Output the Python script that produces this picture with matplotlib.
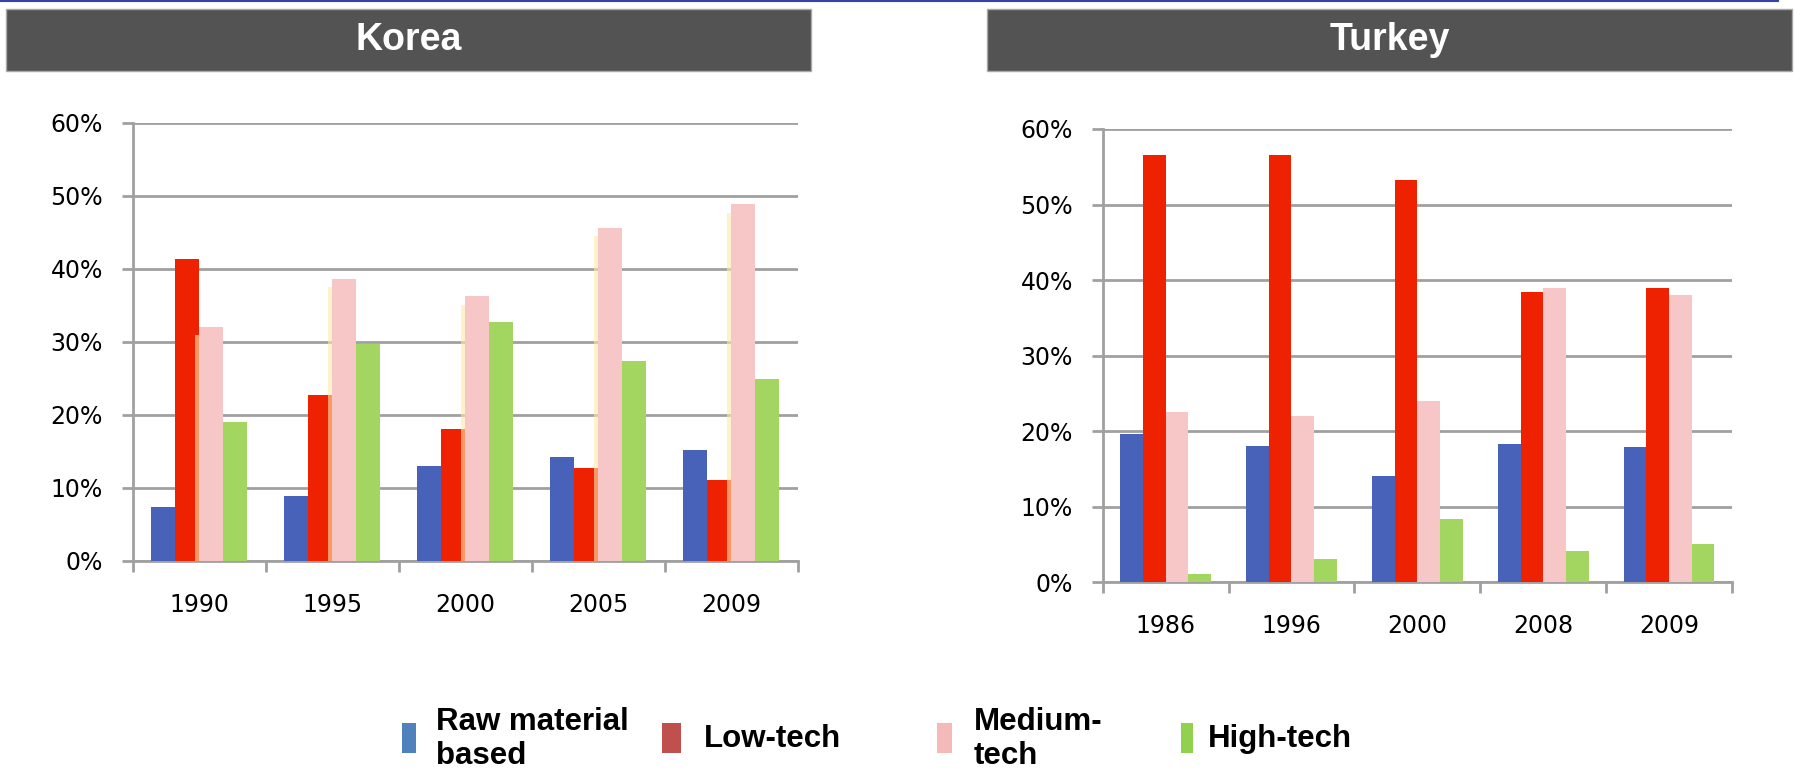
import matplotlib.pyplot as plt
import matplotlib.patheffects as pe
from matplotlib.patches import Rectangle
from matplotlib.lines import Line2D
import numpy as np

#--------------------Export structure shares--------------------
categories = ["Raw material\nbased", "Low-tech", "Medium-\ntech", "High-tech"]

korea_years = ["1990", "1995", "2000", "2005", "2009"]
korea_raw = [7.4, 8.8, 13.0, 14.2, 15.1]
korea_low = [41.3, 22.7, 18.0, 12.7, 11.0]
korea_med = [32.0, 38.6, 36.2, 45.6, 48.8]
korea_high = [19.0, 29.7, 32.7, 27.4, 24.9]

turkey_years = ["1986", "1996", "2000", "2008", "2009"]
turkey_raw = [19.6, 18.1, 14.1, 18.3, 17.9]
turkey_low = [56.5, 56.5, 53.2, 38.4, 38.9]
turkey_med = [22.6, 22.0, 24.0, 38.9, 38.0]
turkey_high = [1.1, 3.1, 8.4, 4.2, 5.1]

yticks = [0, 10, 20, 30, 40, 50, 60]

bar_colors = ['#4862BA', '#EE2200', '#F7C6C6', '#A2D660']
legend_colors = ['#4F81BD', '#C0504D', '#F4BABA', '#92D050']
grid_color = '#A0A0A0'

W, H = 1794, 770
fig = plt.figure(figsize=(W / 100, H / 100), dpi=100)


def fx(px):
    return px / W


def fy(py):
    return 1 - py / H


def draw_panel(ax, years, series, glow=False):
    x = np.arange(len(years))
    width = 0.18
    offsets = [-1.5, -0.5, 0.5, 1.5]
    for vals, off, c in zip(series, offsets, bar_colors):
        bars = ax.bar(x + off * width, vals, width=width, color=c, zorder=3)
        if glow and c == bar_colors[2]:
            # faint warm halo on the left edge of the medium-tech bars
            for b in bars:
                b.set_path_effects([pe.SimplePatchShadow(offset=(-3, -6), shadow_rgbFace='#FFE8A8', alpha=0.6),
                                    pe.Normal()])
    ax.set_xlim(-0.5, len(years) - 0.5)
    ax.set_ylim(0, 60)
    ax.set_yticks(yticks)
    ax.set_yticklabels([f"{v}%" for v in yticks])
    ax.yaxis.grid(True, color=grid_color, linewidth=2, zorder=0)
    ax.set_axisbelow(True)
    # group boundaries get the tick marks, year labels sit in between
    ax.set_xticks(np.arange(-0.5, len(years), 1.0))
    ax.set_xticklabels([])
    ax.set_xticks(x, minor=True)
    ax.set_xticklabels(years, minor=True)
    ax.tick_params(axis='x', which='major', length=8, width=2, color=grid_color, direction='out')
    ax.tick_params(axis='x', which='minor', length=0, pad=23, labelsize=17)
    ax.tick_params(axis='y', length=8, width=2, color=grid_color, pad=13.5, labelsize=17)
    for s in ['top', 'right']:
        ax.spines[s].set_visible(False)
    for s in ['left', 'bottom']:
        ax.spines[s].set_color(grid_color)
        ax.spines[s].set_linewidth(2)


ax1 = fig.add_axes([fx(132.7), fy(560.7), fx(797.7 - 132.7), (560.7 - 122.7) / H])
draw_panel(ax1, korea_years, [korea_raw, korea_low, korea_med, korea_high], glow=True)

ax2 = fig.add_axes([fx(1102.7), fy(582.3), fx(1732 - 1102.7), (582.3 - 129) / H])
draw_panel(ax2, turkey_years, [turkey_raw, turkey_low, turkey_med, turkey_high])

# === Title bars ===
for x0, x1, name in [(6, 811, 'Korea'), (987, 1792, 'Turkey')]:
    fig.patches.append(Rectangle((fx(x0), fy(71)), fx(x1 - x0), 62 / H, transform=fig.transFigure,
                                 facecolor='#535353', edgecolor='#A8A8A8', linewidth=1))
    fig.text(fx((x0 + x1) / 2), fy(40), name, color='white', fontsize=27, fontweight='bold',
             family='Liberation Sans', ha='center', va='center')

# thin rule along the top edge
fig.add_artist(Line2D([0, fx(1778)], [fy(1), fy(1)], color='#3344AA', linewidth=1.5,
                      transform=fig.transFigure))

# === Legend ===
marker_x = [(402, 416), (662, 681), (937, 952), (1181, 1193)]
text_x = [436, 704, 974, 1208]
for (m0, m1), tx, c, lab in zip(marker_x, text_x, legend_colors, categories):
    fig.patches.append(Rectangle((fx(m0), fy(753)), fx(m1 - m0), 30 / H, transform=fig.transFigure,
                                 facecolor=c, edgecolor='none'))
    fig.text(fx(tx), fy(739), lab, fontsize=22.5, fontweight='bold', family='Liberation Sans',
             ha='left', va='center', linespacing=1.2)

fig.savefig("out.png", dpi=100)
